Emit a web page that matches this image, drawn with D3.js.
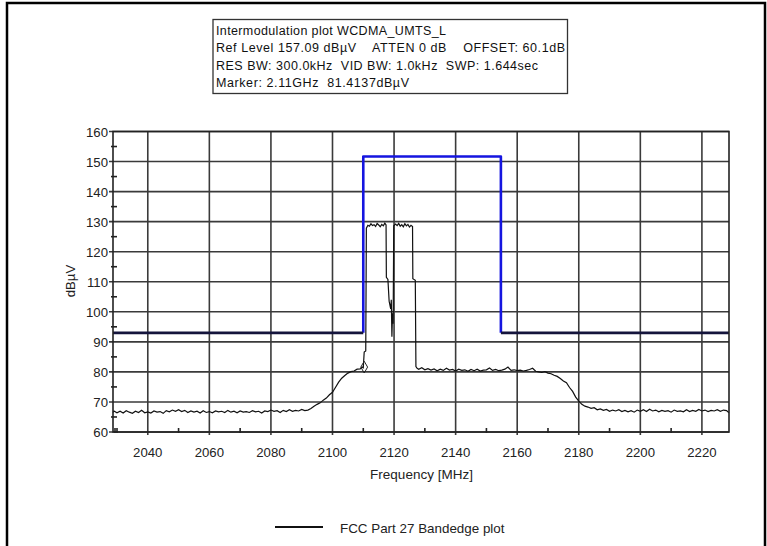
<!DOCTYPE html>
<html><head><meta charset="utf-8">
<script src="https://cdn.jsdelivr.net/npm/d3@7"></script>
<style>body{margin:0;background:#fff}svg{display:block;font-family:"Liberation Sans",Arial,sans-serif}</style>
</head><body><svg id="c" width="767" height="546"></svg>
<script>
const infoLines = [
  "Intermodulation plot WCDMA_UMTS_L",
  "Ref Level 157.09 dB\u00B5V    ATTEN 0 dB    OFFSET: 60.1dB",
  "RES BW: 300.0kHz  VID BW: 1.0kHz  SWP: 1.644sec",
  "Marker: 2.11GHz  81.4137dB\u00B5V"
];
const xTicks = [2040,2060,2080,2100,2120,2140,2160,2180,2200,2220];
const xMinor = [2030,2050,2070,2090,2110,2130,2150,2170,2190,2210];
const yTicks = [60,70,80,90,100,110,120,130,140,150,160];
const yMinor = [65,75,85,95,105,115,125,135,145,155];
const xDomain = [2028.7, 2228.8];
const yDomain = [60, 160];
const xLabel = "Frequency [MHz]";
const yLabel = "dB\u00B5V";
const legendLabel = "FCC Part 27 Bandedge plot";
const markerFreq = 2110.3, markerLevel = 81.6;

// limit mask: [MHz, dBuV]
const limitLow1 = [[2028.7,93],[2110,93]];
const limitHigh = [[2110,93],[2110,151.7],[2154.7,151.7],[2154.7,93]];
const limitLow2 = [[2154.7,93],[2228.8,93]];

// measured trace: [MHz, dBuV]
const trace = [
[2028.7,66.5],[2029,67.0],[2030,66.4],[2031,66.9],[2032,66.3],[2033,67.1],[2034,66.6],[2035,66.2],[2036,66.9],[2037,66.5],
[2038,67.2],[2039,66.4],[2040,66.7],[2041,66.3],[2042,67.0],[2043,66.6],[2044,66.8],[2045,66.2],[2046,67.1],[2047,66.7],
[2048,67.3],[2049,66.9],[2050,67.4],[2051,66.8],[2052,67.2],[2053,66.5],[2054,67.0],[2055,66.6],[2056,66.9],[2057,66.3],
[2058,67.1],[2059,66.5],[2060,66.8],[2061,66.4],[2062,67.0],[2063,66.7],[2064,66.9],[2065,66.5],[2066,67.2],[2067,66.6],
[2068,66.9],[2069,66.4],[2070,67.0],[2071,66.6],[2072,66.8],[2073,66.5],[2074,67.1],[2075,66.7],[2076,66.9],[2077,66.3],
[2078,67.0],[2079,66.8],[2080,67.3],[2081,66.9],[2082,67.1],[2083,66.5],[2084,67.2],[2085,66.8],[2086,67.4],[2087,66.9],
[2088,67.2],[2089,67.0],[2090,67.5],[2091,67.1],[2092,67.3],[2093,67.8],[2094,68.6],[2095,69.2],[2096,69.7],[2097,70.6],
[2098,71.3],[2099,72.4],[2100,73.2],[2101,74.9],[2102,76.6],[2103,77.9],[2104,78.8],[2105,79.6],[2106,80.1],[2107,80.3],
[2108,80.9],[2109,81.0],[2109.6,81.6],[2110,81.4],[2110.3,86.6],[2110.8,87.0],[2111,127.8],[2111.5,128.8],[2112,128.5],
[2112.5,129.3],[2113,128.7],[2113.5,129.0],[2114,128.4],[2114.5,129.4],[2115,128.9],[2115.5,128.3],[2116,129.1],[2116.5,128.6],
[2117,129.5],[2117.4,128.9],[2117.5,111.5],[2118,110.8],[2118.4,103.5],[2118.9,101.0],[2119.1,104.0],[2119.3,91.7],
[2119.5,99.5],[2119.7,96.0],[2119.9,128.6],[2120.5,129.2],[2121,128.7],[2121.5,129.4],[2122,128.5],[2122.5,129.0],
[2123,128.3],[2123.5,129.3],[2124,128.6],[2124.5,129.1],[2125,128.2],[2125.5,128.8],[2126,128.4],[2126.1,111.0],
[2126.9,110.5],[2127.1,81.8],[2127.5,81.2],[2128,80.9],[2129,81.4],[2130,80.7],[2131,81.1],[2132,80.6],[2133,81.0],
[2134,80.4],[2135,80.9],[2136,80.5],[2137,81.2],[2138,80.6],[2139,80.8],[2140,80.3],[2141,80.9],[2142,80.5],[2143,80.7],
[2144,80.2],[2145,80.8],[2146,80.4],[2147,80.9],[2148,80.3],[2149,80.6],[2150,80.7],[2151,81.3],[2152,80.5],[2153,80.8],
[2154,80.4],[2155,80.6],[2156,80.9],[2157,81.6],[2158,80.5],[2159,80.7],[2160,80.4],[2161,80.6],[2162,80.3],[2163,80.5],
[2164,80.8],[2165,81.2],[2166,80.2],[2167,80.0],[2168,79.8],[2169,80.1],[2170,79.6],[2171,79.4],[2172,78.9],[2173,78.5],
[2174,77.8],[2175,77.0],[2176,76.4],[2177,74.8],[2178,73.5],[2179,71.6],[2180,70.3],[2181,69.2],[2182,68.6],[2183,68.3],
[2184,67.9],[2185,68.1],[2186,67.4],[2187,67.7],[2188,67.2],[2189,67.5],[2190,66.9],[2191,67.3],[2192,67.0],[2193,67.4],
[2194,66.8],[2195,67.2],[2196,66.7],[2197,67.1],[2198,66.6],[2199,67.3],[2200,66.9],[2201,67.4],[2202,66.8],[2203,67.6],
[2204,67.0],[2205,67.3],[2206,66.7],[2207,67.2],[2208,66.9],[2209,67.1],[2210,66.6],[2211,67.3],[2212,66.9],[2213,67.0],
[2214,66.7],[2215,67.4],[2216,66.8],[2217,67.2],[2218,66.9],[2219,67.5],[2220,67.0],[2221,67.3],[2222,66.8],[2223,67.2],
[2224,67.0],[2225,67.4],[2226,66.9],[2227,67.3],[2228,67.1],[2228.8,66.4]
];

const svg = d3.select("#c");
const L = 113, R = 729, T = 131.5, B = 432;
const x = d3.scaleLinear().domain(xDomain).range([L, R]);
const y = d3.scaleLinear().domain(yDomain).range([B, T]);

// outer frame
svg.append("path").attr("d","M7,548V3H765V548").attr("fill","none").attr("stroke","#000").attr("stroke-width",2.5);

// info box
const lineW = [230, 349, 322, 193];
const box = svg.append("g");
box.append("rect").attr("x",213).attr("y",19.5).attr("width",354.5).attr("height",74)
  .attr("fill","#fff").attr("stroke","#333").attr("stroke-width",1.3);
infoLines.forEach((t,i)=>{
  box.append("text").attr("x",216).attr("y",34.5+i*17.6).attr("font-size",12.5).attr("fill","#111")
    .attr("xml:space","preserve").style("white-space","pre")
    .attr("textLength",lineW[i]).attr("lengthAdjust","spacing").text(t);
});

// grid
const grid = svg.append("g").attr("stroke","#3a3a3a").attr("stroke-width",1.6);
xTicks.forEach(v=>grid.append("line").attr("x1",x(v)).attr("x2",x(v)).attr("y1",T).attr("y2",B+3));
yTicks.forEach(v=>grid.append("line").attr("x1",L-4).attr("x2",R).attr("y1",y(v)).attr("y2",y(v)));
xMinor.filter(v=>v>xDomain[0]).forEach(v=>grid.append("line").attr("x1",x(v)).attr("x2",x(v)).attr("y1",B-4).attr("y2",B+1).attr("stroke","#222"));
grid.append("line").attr("x1",L+2).attr("x2",L+2).attr("y1",B-4).attr("y2",B+1).attr("stroke","#222");
yMinor.forEach(v=>grid.append("line").attr("x1",L-2).attr("x2",L+4).attr("y1",y(v)).attr("y2",y(v)).attr("stroke","#222"));

// trace
const line = d3.line().x(d=>x(d[0])).y(d=>y(d[1]));
svg.append("path").datum(trace).attr("d",line).attr("fill","none").attr("stroke","#111").attr("stroke-width",1.2);

// marker
svg.append("path").attr("transform",`translate(${x(markerFreq)},${y(markerLevel)})`)
  .attr("d",d3.symbol(d3.symbolDiamond, 40)).attr("fill","none").attr("stroke","#222").attr("stroke-width",1);

// limit
svg.append("path").datum(limitHigh).attr("d",line).attr("fill","none").attr("stroke","#1515e0").attr("stroke-width",2.6).attr("stroke-linejoin","round");
[limitLow1,limitLow2].forEach(s=>svg.append("path").datum(s).attr("d",line).attr("fill","none").attr("stroke","#14143c").attr("stroke-width",2.6));

// frame
svg.append("rect").attr("x",L).attr("y",T).attr("width",R-L).attr("height",B-T).attr("fill","none").attr("stroke","#222").attr("stroke-width",1.6);

// tick labels
const tl = svg.append("g").attr("font-size",13.2).attr("fill","#222");
xTicks.forEach(v=>tl.append("text").attr("x",x(v)).attr("y",B+24.5).attr("text-anchor","middle").text(v));
yTicks.forEach(v=>tl.append("text").attr("x",L-5).attr("y",y(v)+5).attr("text-anchor","end").text(v));
svg.append("text").attr("x",421.5).attr("y",478.5).attr("text-anchor","middle").attr("font-size",13.5).attr("fill","#222").text(xLabel);
svg.append("text").attr("transform","translate(75,281) rotate(-90)").attr("text-anchor","middle").attr("font-size",13.2).attr("fill","#222").text(yLabel);

// legend
svg.append("line").attr("x1",275).attr("x2",323).attr("y1",527).attr("y2",527).attr("stroke","#111").attr("stroke-width",2);
svg.append("text").attr("x",340).attr("y",532.5).attr("font-size",13.4).attr("fill","#222").text(legendLabel);
</script></body></html>
